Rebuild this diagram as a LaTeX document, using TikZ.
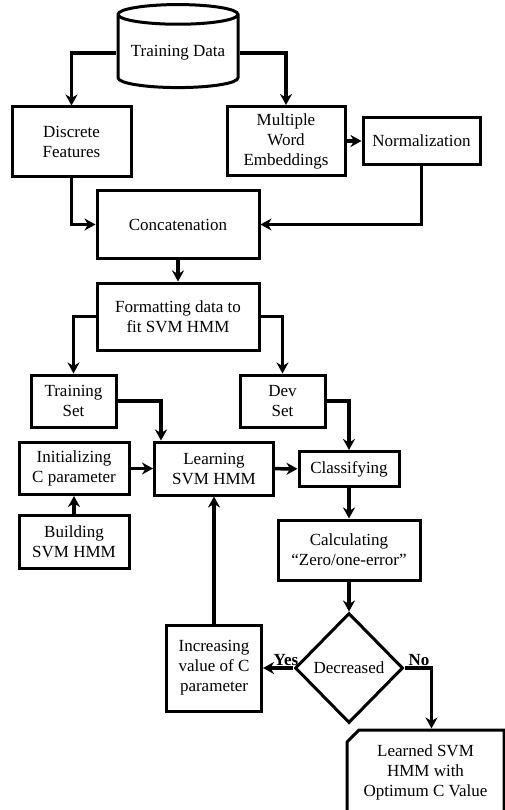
\documentclass[tikz,border=0pt]{standalone}
\usepackage{fontspec}
\setmainfont{Liberation Serif}
\usetikzlibrary{arrows.meta, shapes.geometric, shapes.misc}

\begin{document}
\begin{tikzpicture}[x=1pt, y=-1pt, >={Stealth[length=11pt, width=12pt, inset=3.5pt]},
  box/.style={draw, line width=3pt, align=center, inner sep=2pt,
    font=\fontsize{17}{20}\selectfont},
  flow/.style={->, line width=3.5pt},
  lbl/.style={font=\fontsize{17}{18}\selectfont\bfseries, inner sep=1pt}]
  \useasboundingbox (0,0) rectangle (505,810);

  \node[box, cylinder, shape border rotate=90, aspect=0.2, minimum width=120pt, minimum height=83pt] (data) at (178,53) {Training Data};
  \node[box, minimum width=119pt, minimum height=70pt] (disc) at (71.5,142) {Discrete\\Features};
  \node[box, minimum width=118pt, minimum height=69pt] (multi) at (286,141) {Multiple\\Word\\Embeddings};
  \node[box, minimum width=117pt, minimum height=47pt] (norm) at (421.5,141) {Normalization};
  \node[box, minimum width=162pt, minimum height=67pt] (concat) at (178,224.5) {Concatenation};
  \node[box, minimum width=162pt, minimum height=67pt] (format) at (178,316.5) {Formatting data to\\fit SVM HMM};
  \node[box, minimum width=85pt, minimum height=52pt] (train) at (73.5,401) {Training\\Set};
  \node[box, minimum width=85pt, minimum height=52pt] (dev) at (282.5,401) {Dev\\Set};
  \node[box, minimum width=110pt, minimum height=52pt] (init) at (74,468.5) {Initializing\\C parameter};
  \node[box, minimum width=119pt, minimum height=53pt] (learn) at (214,468.5) {Learning\\SVM HMM};
  \node[box, minimum width=100pt, minimum height=35pt] (classify) at (349,469) {Classifying};
  \node[box, minimum width=110pt, minimum height=53pt] (build) at (74,541.5) {Building\\SVM HMM};
  \node[box, minimum width=142pt, minimum height=60pt] (calc) at (349,550) {Calculating\\``Zero/one-error''};
  \node[box, diamond, minimum width=108pt, minimum height=110pt, inner sep=0pt] (decr) at (349,668) {Decreased};
  \node[box, minimum width=95pt, minimum height=86pt] (incr) at (214,668) {Increasing\\value of C\\parameter};
  \node[box, chamfered rectangle, chamfered rectangle corners=north west, chamfered rectangle xsep=4pt, chamfered rectangle ysep=8pt,
    minimum width=157pt, minimum height=84pt] (learned) at (425.5,772) {Learned SVM\\HMM with\\Optimum C Value};

  \draw[flow] (data.west) -| (disc);
  \draw[flow] (data.east) -| (multi);
  \draw[flow] (multi) -- (norm);
  \draw[flow] (disc) |- (concat);
  \draw[flow] (norm) |- (concat);
  \draw[flow] (concat) -- (format);
  \draw[flow] (format.west) -| (train);
  \draw[flow] (format.east) -| (dev);
  \draw[flow] (train.east) -| ([xshift=8pt]learn.north west);
  \draw[flow] (dev.east) -| (classify);
  \draw[flow] (init) -- (learn);
  \draw[flow] (learn) -- (classify);
  \draw[flow] (build) -- (init);
  \draw[flow] (classify) -- (calc);
  \draw[flow] (calc) -- (decr);
  \draw[flow] (decr) -- node[lbl, above, pos=0.25] {Yes} (incr);
  \draw[flow] (decr.east) -| node[lbl, above, pos=0.27] {No} ([xshift=6pt]learned.north);
  \draw[flow] (incr) -- (learn);
\end{tikzpicture}
\end{document}
